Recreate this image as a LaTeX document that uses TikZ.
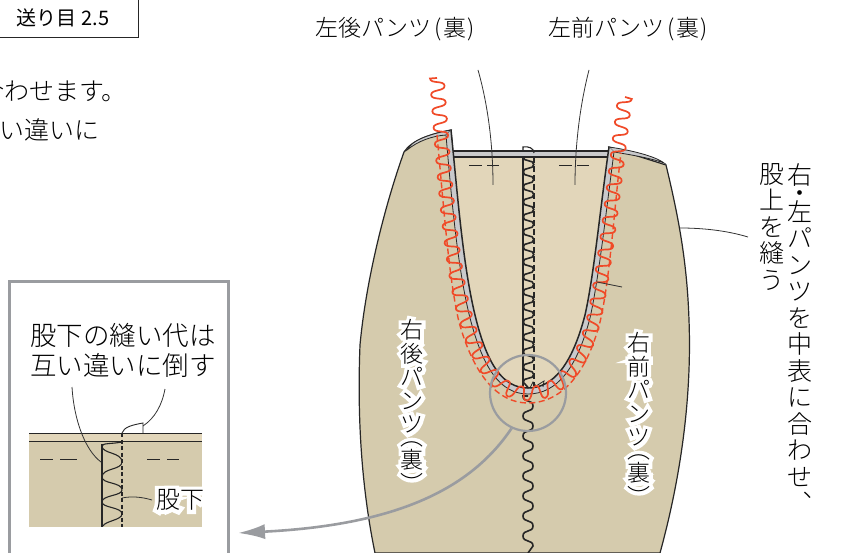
\documentclass[tikz,border=0pt]{standalone}
\usepackage{fontspec}
\setmainfont{Noto Sans CJK JP}[UprightFont=* Light]
\newfontfamily\regfont{Noto Sans CJK JP}
\newfontfamily\halofont{Noto Sans CJK JP}[FakeBold=30]
\usetikzlibrary{arrows.meta,decorations}
\definecolor{fabric}{HTML}{D5CBAD}
\definecolor{fabricin}{HTML}{E2D6BA}
\definecolor{band}{HTML}{C9CACC}
\definecolor{frameg}{HTML}{9A9CA0}
\definecolor{redst}{HTML}{F04A28}
\pgfdeclaredecoration{stitchwave}{start}{
  \state{start}[width=0pt,next state=up]{\pgfpathlineto{\pgfqpoint{0pt}{-\pgfdecorationsegmentamplitude}}}
  \state{up}[width=.5\pgfdecorationsegmentlength,next state=down]{
    \pgfpathcurveto{\pgfqpoint{.35\pgfdecorationsegmentlength}{-\pgfdecorationsegmentamplitude}}
      {\pgfqpoint{.15\pgfdecorationsegmentlength}{\pgfdecorationsegmentamplitude}}
      {\pgfqpoint{.5\pgfdecorationsegmentlength}{\pgfdecorationsegmentamplitude}}}
  \state{down}[width=.5\pgfdecorationsegmentlength,next state=up]{
    \pgfpathcurveto{\pgfqpoint{.35\pgfdecorationsegmentlength}{\pgfdecorationsegmentamplitude}}
      {\pgfqpoint{.15\pgfdecorationsegmentlength}{-\pgfdecorationsegmentamplitude}}
      {\pgfqpoint{.5\pgfdecorationsegmentlength}{-\pgfdecorationsegmentamplitude}}}
  \state{final}{\pgfpathlineto{\pgfpointdecoratedpathlast}}
}
\newcommand{\rbstack}{右\\後\\パ\\ン\\ツ\\[-11pt]︵\\裏\\︶}
\newcommand{\rfstack}{右\\前\\パ\\ン\\ツ\\[-11pt]︵\\裏\\︶}
\tikzset{
  lbl/.style={inner sep=0pt,font=\fontsize{23}{25}\selectfont},
  vlbl/.style={inner sep=0pt,align=center,font=\fontsize{23}{23.5}\selectfont},
  vlong/.style={inner sep=0pt,align=center,anchor=north,font=\fontsize{25}{26.5}\selectfont},
  halo/.style={inner sep=0pt,align=center,text=white,font=\halofont\fontsize{23}{23.5}\selectfont},
  lead/.style={line width=.8pt,draw=black!80},
  seam/.style={draw=black!85},
  redwave/.style={draw=redst,line width=1.7pt,decorate,decoration={stitchwave,segment length=16.5,amplitude=7}},
  blkwave/.style={draw=black!85,line width=1.6pt,decorate,decoration={stitchwave,segment length=15,amplitude=5.3}},
}
\begin{document}
\begin{tikzpicture}[x=1pt,y=-1pt,>=latex]
\useasboundingbox (0,0) rectangle (846,553);
% body
\fill[white] (0,0) rectangle (846,553);
\draw[seam,fill=fabric,line width=1.2pt] (451,130) .. controls (430,134) and (412,140) .. (404,152)
   .. controls (385,205) and (366,280) .. (360,345) .. controls (357,420) and (362,490) .. (375,553)
   -- (660,553) .. controls (680,480) and (692,400) .. (689,320) .. controls (687,260) and (678,215) .. (666,165)
   -- (609,147) -- (610,157) -- (453,157) -- cycle;
% inner part
\fill[fabricin] (453,151) -- (610,151) .. controls (600,210) and (594,275) .. (585,315)
   .. controls (572,365) and (553,388) .. (528,388) .. controls (503,388) and (487,365) .. (475,315)
   .. controls (463,265) and (458,200) .. (453,151);
\draw[seam,fill=band,line width=1.5pt] (453,151) rectangle (610,157);
\draw[seam,fill=band,line width=.8pt] (451,130) .. controls (430,134) and (412,140) .. (407,150)
   .. controls (418,141) and (432,136) .. (446,135) -- cycle;
\draw[seam,fill=band,line width=.8pt] (609,147) .. controls (630,150) and (655,156) .. (664,163)
   .. controls (650,158) and (632,155) .. (614,152) -- cycle;
% seam band
\fill[band] (451,130) .. controls (458,200) and (463,265) .. (475,315) .. controls (487,365) and (503,388) .. (528,388)
   .. controls (553,388) and (572,365) .. (585,315) .. controls (594,275) and (600,210) .. (609,147)
   -- (614,152) .. controls (606,212) and (599,277) .. (590,318) .. controls (577,368) and (557,394) .. (528,394)
   .. controls (500,394) and (483,368) .. (470,318) .. controls (458,270) and (452,205) .. (446,135) -- cycle;
\draw[seam,line width=.8pt] (446,135) .. controls (452,205) and (458,270) .. (470,318) .. controls (483,368) and (500,394) .. (528,394)
   .. controls (557,394) and (577,368) .. (590,318) .. controls (599,277) and (606,212) .. (614,152);
\draw[seam,line width=1.5pt] (451,130) .. controls (458,200) and (463,265) .. (475,315) .. controls (487,365) and (503,388) .. (528,388)
   .. controls (553,388) and (572,365) .. (585,315) .. controls (594,275) and (600,210) .. (609,147);
% center stitch
\draw[seam,line width=1.3pt] (523,157) -- (523,388);
\draw[seam,line width=1.3pt,dash pattern=on 6pt off 3pt] (534,157) -- (534,386);
\draw[blkwave] (528.5,157) -- (528.5,388);
\draw[blkwave,decoration={stitchwave,segment length=20,amplitude=5}] (528,396) -- (528,553);
\draw[seam,line width=1.1pt] (523,151) -- (523,147) .. controls (528,146) and (534,148) .. (534,153);
\draw[seam,line width=.8pt] (530,388) -- (533,382) -- (536,386) -- (544,381) -- (543,387);
% red stitch
\draw[redwave] (437,78) .. controls (444,180) and (452,275) .. (467,322) .. controls (481,368) and (500,393) .. (528,393)
   .. controls (557,393) and (581,368) .. (593,322) .. controls (604,275) and (612,200) .. (625,97);
\draw[draw=redst,line width=1.4pt,dash pattern=on 6pt off 3.5pt] (437,135) .. controls (444,210) and (449,280) .. (459,322)
   .. controls (474,376) and (498,403) .. (528,403) .. controls (560,403) and (586,376) .. (600,322)
   .. controls (610,280) and (615,200) .. (621,153);
% marks
\draw[seam,line width=1pt] (469,166)--(482,166) (487,166)--(499,166) (559,166)--(572,166) (577,166)--(589,166);
\draw[lead] (478,70) .. controls (488,105) and (493,145) .. (493,185);
\draw[lead] (589,70) .. controls (580,105) and (575,145) .. (575,185);
\draw[lead] (748,237) .. controls (725,230) and (700,228) .. (680,228);
\draw[lead] (597,282) -- (622,287);
% zoom circle and arrow
\node[circle,draw=frameg,line width=2.2pt,minimum size=76pt,inner sep=0pt] (zoomcirc) at (528,393) {};
\coordinate (arrowend) at (238,533);
\draw[frameg,line width=2.6pt,-{Latex[length=27pt,width=15pt]}] (zoomcirc.245) .. controls (470,490) and (395,525) .. (arrowend);
% inset
\draw[frameg,line width=3pt] (9,556) -- (9,282) -- (228,282) -- (228,556);
\fill[fabric] (29,441) rectangle (202,527);
\fill[fabricin] (29,433) rectangle (202,441);
\draw[seam,line width=1pt] (29,433) -- (202,433) (29,441) -- (202,441);
\draw[seam,line width=1.1pt] (102,444) -- (102,527);
\draw[seam,line width=1.1pt,dash pattern=on 4pt off 2.5pt] (122,433) -- (122,527);
\draw[seam,line width=1.1pt] (122,442) .. controls (112,444) and (102,443) .. (102,446)
   .. controls (102,454) and (122,452) .. (122,462) .. controls (122,470) and (102,468) .. (102,477)
   .. controls (102,484) and (122,482) .. (122,490) .. controls (122,496) and (102,495) .. (102,502)
   .. controls (102,508) and (122,507) .. (122,514) .. controls (122,520) and (105,521) .. (103,526);
\draw[seam,line width=.9pt] (122,433) .. controls (124,427) and (132,425) .. (143,423) -- (143,433);
\draw[seam,line width=1pt] (40,459)--(53,459) (60,459)--(77,459) (147,459)--(160,459) (167,459)--(179,459);
\draw[lead] (72,387) .. controls (74,420) and (85,450) .. (101,462);
\draw[lead] (165,389) .. controls (162,405) and (155,418) .. (143,426);
\draw[lead] (122,498) .. controls (132,496) and (142,497) .. (152,500);
\node[inner sep=0pt,align=center,font=\fontsize{26.5}{30}\selectfont] (insettxt) at (123,350) {股下の縫い代は\\互い違いに倒す};
\node[halo,font=\halofont\fontsize{24}{26}\selectfont] (crotchhalo) at (180,500) {股下};
\node[inner sep=0pt,font=\fontsize{24}{26}\selectfont] (crotch) at (180,500) {股下};
% labels
\node[lbl] (leftback) at (395,29) {左後パンツ\kern3pt(\kern1pt裏\kern1pt)};
\node[lbl] (leftfront) at (628,29) {左前パンツ\kern3pt(\kern1pt裏\kern1pt)};
\node[halo] (rbhalo) at (412,406) {\rbstack};
\node[vlbl] (rightback) at (412,406) {\rbstack};
\node[halo] (rfhalo) at (639,419) {\rfstack};
\node[vlbl] (rightfront) at (639,419) {\rfstack};
\node[vlong] (sewa) at (800,163) {右\\[-8pt]・\\[-8pt]左\\パ\\ン\\ツ\\を\\中\\表\\に\\合\\わ\\せ\\︑};
\node[vlong] (sewb) at (772,163) {股\\上\\を\\縫\\う};
% top left
\draw[seam,line width=1pt] (-2,37.5) -- (138,37.5) -- (138,-2);
\node[inner sep=0pt,font=\regfont\fontsize{20}{22}\selectfont] (pagebox) at (63,18) {送り目 2.5};
\node[anchor=east,inner sep=0pt,font=\fontsize{25}{28}\selectfont] (linea) at (127,91) {合わせます。};
\node[anchor=east,inner sep=0pt,font=\fontsize{25}{28}\selectfont] (lineb) at (100,130) {い違いに};
\end{tikzpicture}
\end{document}
